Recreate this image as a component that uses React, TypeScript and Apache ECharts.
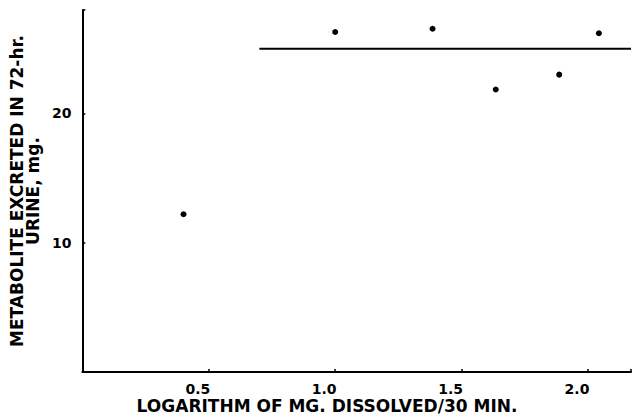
import React, { useEffect, useRef } from "react";
import * as echarts from "echarts";

const pointX = [0.4, 1.0, 1.385, 1.635, 1.886, 2.043];
const pointY = [12.2, 26.3, 26.55, 21.85, 23.0, 26.2];
const lineX = [0.7, 2.17];
const lineY = [25, 25];
const xTicks = [0.5, 1.0, 1.5, 2.0];
const yTicks = [10, 20];

const FONT = "DejaVu Sans";

export default function App() {
  const ref = useRef<HTMLDivElement>(null);
  useEffect(() => {
    if (!ref.current) return;
    const chart = echarts.init(ref.current, null, { renderer: "svg" });
    chart.setOption({
      animation: false,
      backgroundColor: "#ffffff",
      grid: { left: 80, top: 10, right: 0, bottom: 44 },
      xAxis: {
        type: "value",
        min: 0,
        max: 2.17,
        interval: 0.5,
        splitLine: { show: false },
        axisLine: { show: true, lineStyle: { color: "#000", width: 2 } },
        axisTick: { show: true, inside: true, length: 3, lineStyle: { color: "#000", width: 1.5 } },
        axisLabel: {
          color: "#000",
          fontFamily: FONT,
          fontWeight: "bold",
          fontSize: 14,
          margin: 10,
          padding: [0, 22, 0, 0],
          formatter: (v: number) =>
            xTicks.some((t) => Math.abs(t - v) < 1e-6) ? v.toFixed(1) : "",
        },
      },
      yAxis: {
        type: "value",
        min: 0,
        max: 28,
        interval: 10,
        splitLine: { show: false },
        axisLine: { show: true, lineStyle: { color: "#000", width: 2 } },
        axisTick: { show: true, inside: true, length: 3, lineStyle: { color: "#000", width: 1.5 } },
        axisLabel: {
          color: "#000",
          fontFamily: FONT,
          fontWeight: "bold",
          fontSize: 14,
          margin: 11,
          formatter: (v: number) =>
            yTicks.some((t) => Math.abs(t - v) < 1e-6) ? String(v) : "",
        },
        name: "METABOLITE EXCRETED IN 72-hr.\nURINE, mg.",
        nameLocation: "middle",
        nameGap: 29,
        nameRotate: 90,
        nameTextStyle: {
          color: "#000",
          fontFamily: FONT,
          fontWeight: "bold",
          fontSize: 17,
          lineHeight: 16,
          align: "center",
        },
      },
      graphic: [
        {
          type: "text",
          x: 327,
          y: 406,
          style: {
            text: "LOGARITHM OF MG. DISSOLVED/30 MIN.",
            fill: "#000",
            font: `bold 17px "${FONT}"`,
            textAlign: "center",
            textVerticalAlign: "middle",
          },
        },
      ],
      series: [
        {
          type: "line",
          data: lineX.map((x, i) => [x, lineY[i]]),
          symbol: "none",
          lineStyle: { color: "#000", width: 2 },
        },
        {
          type: "scatter",
          data: pointX.map((x, i) => [x, pointY[i]]),
          symbolSize: 6,
          itemStyle: { color: "#000", opacity: 1 },
        },
      ],
    });
    return () => chart.dispose();
  }, []);
  return (
    <div
      ref={ref}
      style={{ position: "fixed", left: 0, top: 0, width: 634, height: 416, background: "#fff" }}
    />
  );
}
